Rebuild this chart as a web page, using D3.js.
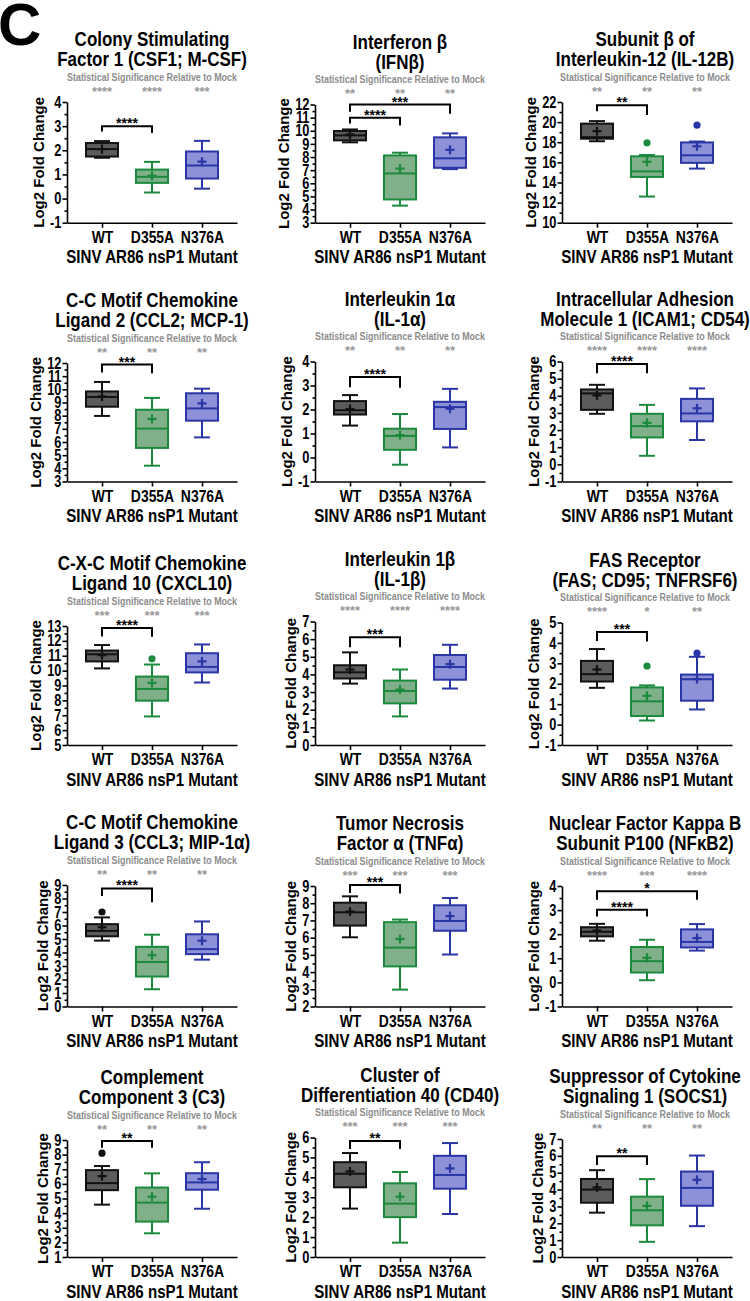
<!DOCTYPE html>
<html><head><meta charset="utf-8">
<script src="https://cdn.jsdelivr.net/npm/d3@7"></script>
<style>body{margin:0;background:#fff}svg{display:block}</style>
</head><body>
<svg id="c" width="750" height="1301"></svg>
<script>
// ---------------- DATA ----------------
const titles = [
  ["Colony Stimulating", "Factor 1 (CSF1; M-CSF)"],
  ["Interferon β", "(IFNβ)"],
  ["Subunit β of", "Interleukin-12 (IL-12B)"],
  ["C-C Motif Chemokine", "Ligand 2 (CCL2; MCP-1)"],
  ["Interleukin 1α", "(IL-1α)"],
  ["Intracellular Adhesion", "Molecule 1 (ICAM1; CD54)"],
  ["C-X-C Motif Chemokine", "Ligand 10 (CXCL10)"],
  ["Interleukin 1β", "(IL-1β)"],
  ["FAS Receptor", "(FAS; CD95; TNFRSF6)"],
  ["C-C Motif Chemokine", "Ligand 3 (CCL3; MIP-1α)"],
  ["Tumor Necrosis", "Factor α (TNFα)"],
  ["Nuclear Factor Kappa B", "Subunit P100 (NFκB2)"],
  ["Complement", "Component 3 (C3)"],
  ["Cluster of", "Differentiation 40 (CD40)"],
  ["Suppressor of Cytokine", "Signaling 1 (SOCS1)"]
];
const groups = ["WT", "D355A", "N376A"];
const xAxisTitle = "SINV AR86 nsP1 Mutant";
const yAxisTitle = "Log2 Fold Change";
const sigSubtitle = "Statistical Significance Relative to Mock";

const yDomains = [[-1,4],[3,12],[10,22],[3,12],[-1,4],[-1,6],[5,13],[0,7],[-1,5],[0,9],[2,9],[-1,4],[1,9],[0,6],[0,7]];
const tickSteps = [1,1,2,1,1,1,1,1,1,1,1,1,1,1,1];

// per panel: [WT, D355A, N376A]
const whiskerHigh = [[2.38,1.52,2.39],[10.1,8.33,9.8],[20.1,16.73,18.07],[10.56,9.35,10.05],[2.6,1.81,2.86],
  [4.64,3.47,4.43],[11.72,10.41,11.76],[5.25,4.28,5.68],[3.7,1.92,3.32],[6.6,5.32,6.3],
  [8.4,7.05,8.3],[2.43,1.77,2.42],[7.22,6.72,7.48],[5.22,4.27,5.72],[5.15,4.62,6.02]];
const q3 = [[2.3,1.2,1.95],[9.98,8.12,9.5],[19.85,16.6,17.98],[9.84,8.45,9.7],[2.35,1.2,2.32],
  [4.37,2.95,3.82],[11.35,9.6,11.17],[4.52,3.65,5.1],[3.12,1.82,2.45],[6.1,4.42,5.35],
  [8.03,6.9,7.88],[2.29,1.47,2.2],[6.94,5.75,6.73],[4.76,3.7,5.08],[4.63,3.58,5.07]];
const medians = [[2.05,0.9,1.37],[9.65,6.75,7.9],[18.5,15.1,16.7],[9.42,7.02,8.55],[1.97,0.9,2.1],
  [4.14,2.23,2.97],[11.1,8.77,10.25],[4.12,3.06,4.42],[2.47,1.14,2.22],[5.6,3.3,4.25],
  [7.47,5.42,6.97],[2.1,0.88,1.68],[6.05,4.72,6.1],[4.18,2.68,4.12],[4.0,2.77,4.1]];
const q1 = [[1.74,0.65,0.83],[9.27,4.77,7.18],[18.35,14.55,15.95],[8.68,5.55,7.62],[1.79,0.32,1.19],
  [3.18,1.57,2.51],[10.62,7.98,9.88],[3.77,2.36,3.7],[2.11,0.42,1.17],[5.2,2.22,3.88],
  [6.7,4.33,6.4],[1.91,0.41,1.45],[5.57,3.42,5.6],[3.5,2.0,3.43],[3.22,1.88,3.04]];
const whiskerLow = [[1.69,0.25,0.41],[9.12,4.3,7.08],[18.1,12.6,15.38],[7.98,4.2,6.35],[1.33,-0.3,0.42],
  [2.95,0.5,1.42],[10.15,6.92,9.2],[3.48,1.62,3.2],[1.8,0.2,0.74],[4.88,1.28,3.47],
  [6.02,2.98,5.02],[1.73,0.09,1.32],[4.58,2.62,4.3],[2.43,0.72,2.16],[2.63,0.9,1.83]];
const means = [[2.05,0.94,1.53],[9.72,7.12,8.55],[19.1,16.05,17.6],[9.45,7.75,8.93],[2.02,0.93,2.03],
  [4.02,2.42,3.27],[11.04,9.17,10.62],[4.28,3.14,4.58],[2.7,1.41,2.23],[5.87,3.8,4.87],
  [7.52,5.92,7.25],[2.15,1.02,1.84],[6.53,5.12,6.33],[4.3,3.03,4.45],[4.13,3.03,4.58]];
// [panel, group index, value]
const outliers = [[2,1,17.95],[2,2,19.7],[6,1,10.8],[8,1,2.87],[8,2,3.5],[9,0,7.0],[12,0,8.1]];
const sigVsMock = [["****","****","***"],["**","**","**"],["**","**","**"],["**","**","**"],["**","**","**"],
  ["****","****","****"],["***","***","***"],["****","****","****"],["****","*","**"],["**","**","**"],
  ["***","***","***"],["****","***","****"],["**","**","**"],["***","***","***"],["**","**","**"]];
// [panel, from group, to group, bracket y, left leg end, right leg end, label]
const brackets = [[0,0,1,3.0,2.78,2.72,"****"],[1,0,1,11.0,10.55,10.4,"****"],[1,0,2,12.0,11.45,11.3,"***"],
  [2,0,1,21.67,21.07,20.7,"**"],[3,0,1,11.88,11.28,11.23,"***"],[4,0,1,3.35,2.93,2.91,"****"],
  [5,0,1,5.86,5.31,5.31,"****"],[6,0,1,12.86,12.3,12.28,"****"],[7,0,1,6.11,5.54,5.54,"***"],
  [8,0,1,4.54,4.1,4.07,"***"],[9,0,1,8.75,8.19,7.72,"****"],[10,0,1,9.06,8.6,8.57,"***"],
  [11,0,1,3.01,2.73,2.73,"****"],[11,0,2,3.78,3.43,3.43,"*"],[12,0,1,8.93,8.47,8.47,"**"],
  [13,0,1,5.83,5.42,5.42,"**"],[14,0,1,5.98,5.46,5.46,"**"]];

// ---------------- LAYOUT / STYLE ----------------
const colAxisX = [67, 315, 562];
const titleShift = [0, 0, -2];
const plotTops = [102,104.5,102, 363,361.5,361.5, 626,621.5,622.5, 885,886,886, 1140,1137.5,1139];
const rowBottoms = [222.7, 481.5, 745, 1006.5, 1257];
const strokes = ["#111111", "#1c8a3d", "#2a35a6"];
const fills = ["#5c5c5c", "#80b08a", "#8d91d7"];
const FONT = '"Liberation Sans",Arial,sans-serif';
const BOXW = 32, CAPW = 16, TICK_SX = 0.8;

const svg = d3.select("#c");
svg.append("text").attr("x", -2).attr("y", 45).text("C")
  .attr("font-family", FONT).attr("font-weight", "bold").attr("font-size", 60).attr("fill", "#000");

// condensed bold text helper (horizontal squeeze)
function ctext(parent, x, y, str, size, sx, fill) {
  return parent.append("g").attr("transform", `translate(${x},${y}) scale(${sx},1)`)
    .append("text").attr("text-anchor", "middle").text(str)
    .attr("font-family", FONT).attr("font-weight", "bold").attr("font-size", size).attr("fill", fill || "#000");
}

titles.forEach((t, p) => {
  const col = p % 3, row = Math.floor(p / 3);
  const ax = colAxisX[col], top = plotTops[p], bot = rowBottoms[row];
  const dom = yDomains[p], step = tickSteps[p];
  const y = d3.scaleLinear().domain(dom).range([bot, top]);
  const x = d3.scalePoint().domain(groups).range([ax, ax + 170]).padding(0.7);
  const g = svg.append("g");
  const cx = ax + 85 + titleShift[col];

  // titles
  ctext(g, cx, top - 56, t[0], 20, 0.85);
  ctext(g, cx, top - 36, t[1], 20, 0.85);
  ctext(g, cx, top - 21.5, sigSubtitle, 10.5, 0.85, "#8c8c8c");
  groups.forEach((gr, i) => {
    g.append("text").attr("x", x(gr)).attr("y", top - 6.5).text(sigVsMock[p][i])
      .attr("text-anchor", "middle").attr("font-family", FONT).attr("font-weight", "bold")
      .attr("font-size", 13).attr("fill", "#999");
  });

  // y axis
  const ticks = d3.range(dom[0], dom[1] + 1e-9, step);
  const minor = d3.range(dom[0] + step / 2, dom[1], step);
  const ya = g.append("g").attr("transform", `translate(${ax},0)`)
    .call(d3.axisLeft(y).tickValues(ticks).tickSize(4.5).tickSizeOuter(0).tickPadding(2.5).tickFormat(d => String(d)));
  const ym = g.append("g").attr("transform", `translate(${ax},0)`)
    .call(d3.axisLeft(y).tickValues(minor).tickSize(2.5).tickSizeOuter(0).tickFormat(""));
  ym.select(".domain").remove();
  // x axis
  const xa = g.append("g").attr("transform", `translate(0,${bot})`)
    .call(d3.axisBottom(x).tickSize(5).tickSizeOuter(0).tickPadding(3));
  [ya, ym, xa].forEach(a => {
    a.selectAll("path,line").attr("stroke", "#000").attr("stroke-width", 1.6);
  });
  ya.selectAll("text").attr("font-family", FONT).attr("font-weight", "bold").attr("font-size", 16)
    .attr("fill", "#000").attr("transform", `scale(${TICK_SX},1)`);
  xa.selectAll("text").attr("font-family", FONT).attr("font-weight", "bold").attr("font-size", 17)
    .attr("fill", "#000").attr("transform", "scale(0.82,1)");

  // widest tick label decides where the axis title sits
  let maxW = 0;
  ya.selectAll(".tick text").each(function () { maxW = Math.max(maxW, this.getComputedTextLength() * TICK_SX); });
  const labelBase = ax - 11.5 - maxW;

  // axis titles
  g.append("text").attr("transform", `translate(${labelBase},${(top + bot) / 2}) rotate(-90)`)
    .attr("text-anchor", "middle").text(yAxisTitle)
    .attr("font-family", FONT).attr("font-weight", "bold").attr("font-size", 15).attr("fill", "#000");
  ctext(g, ax + 85, bot + 40.5, xAxisTitle, 18, 0.84);

  // boxes
  groups.forEach((gr, i) => {
    const c = x(gr), s = strokes[i];
    const bg = g.append("g").attr("stroke", s).attr("stroke-width", 2).attr("fill", "none");
    bg.append("line").attr("x1", c).attr("x2", c).attr("y1", y(whiskerLow[p][i])).attr("y2", y(q1[p][i]));
    bg.append("line").attr("x1", c).attr("x2", c).attr("y1", y(q3[p][i])).attr("y2", y(whiskerHigh[p][i]));
    bg.append("line").attr("x1", c - CAPW / 2).attr("x2", c + CAPW / 2).attr("y1", y(whiskerLow[p][i])).attr("y2", y(whiskerLow[p][i]));
    bg.append("line").attr("x1", c - CAPW / 2).attr("x2", c + CAPW / 2).attr("y1", y(whiskerHigh[p][i])).attr("y2", y(whiskerHigh[p][i]));
    bg.append("rect").attr("x", c - BOXW / 2).attr("width", BOXW)
      .attr("y", y(q3[p][i])).attr("height", y(q1[p][i]) - y(q3[p][i])).attr("fill", fills[i]);
    bg.append("line").attr("x1", c - BOXW / 2).attr("x2", c + BOXW / 2).attr("y1", y(medians[p][i])).attr("y2", y(medians[p][i]));
    const my = y(means[p][i]);
    bg.append("line").attr("x1", c - 4.5).attr("x2", c + 4.5).attr("y1", my).attr("y2", my).attr("stroke-width", 2.2);
    bg.append("line").attr("x1", c).attr("x2", c).attr("y1", my - 4.5).attr("y2", my + 4.5).attr("stroke-width", 2.2);
  });
  outliers.filter(o => o[0] === p).forEach(o => {
    g.append("circle").attr("cx", x(groups[o[1]])).attr("cy", y(o[2])).attr("r", 3.6).attr("fill", strokes[o[1]]);
  });

  // comparison brackets
  brackets.filter(b => b[0] === p).forEach(b => {
    const x1 = x(groups[b[1]]), x2 = x(groups[b[2]]), by = y(b[3]);
    g.append("path").attr("d", `M${x1},${y(b[4])}V${by}H${x2}V${y(b[5])}`)
      .attr("fill", "none").attr("stroke", "#000").attr("stroke-width", 2);
    g.append("text").attr("x", (x1 + x2) / 2).attr("y", by + 2).attr("text-anchor", "middle").text(b[6])
      .attr("font-family", FONT).attr("font-weight", "bold").attr("font-size", 14).attr("fill", "#000");
  });
});
</script>
</body></html>
